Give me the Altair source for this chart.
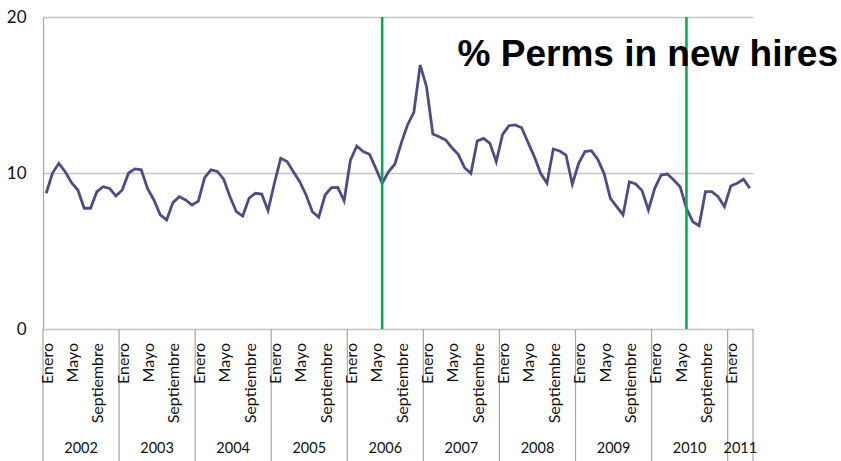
import altair as alt
import pandas as pd

# Monthly share of permanent contracts among new hires (%), Jan 2002 - Apr 2011
years = [2002, 2003, 2004, 2005, 2006, 2007, 2008, 2009, 2010, 2011]
v2002 = [8.7, 10.0, 10.62, 10.08, 9.38, 8.91, 7.74, 7.74, 8.80, 9.12, 9.01, 8.53]
v2003 = [8.91, 10.0, 10.26, 10.2, 9.0, 8.27, 7.31, 6.99, 8.10, 8.48, 8.27, 7.95]
v2004 = [8.2, 9.7, 10.2, 10.1, 9.6, 8.48, 7.52, 7.24, 8.38, 8.70, 8.65, 7.59]
v2005 = [9.34, 10.94, 10.73, 10.08, 9.44, 8.59, 7.52, 7.16, 8.59, 9.06, 9.08, 8.22]
v2006 = [10.83, 11.73, 11.37, 11.2, 10.3, 9.34, 10.07, 10.56, 11.9, 13.08, 13.89, 16.92]
v2007 = [15.53, 12.5, 12.33, 12.12, 11.62, 11.2, 10.34, 9.98, 12.05, 12.22, 11.9, 10.73]
v2008 = [12.48, 13.03, 13.08, 12.9, 11.97, 11.05, 9.98, 9.34, 11.54, 11.41, 11.15, 9.28]
v2009 = [10.62, 11.37, 11.43, 10.88, 9.98, 8.38, 7.84, 7.31, 9.44, 9.3, 8.87, 7.63]
v2010 = [9.02, 9.87, 9.93, 9.55, 9.12, 7.74, 6.88, 6.62, 8.8, 8.8, 8.48, 7.84]
v2011 = [9.17, 9.34, 9.6, 9.02]
series = [v2002, v2003, v2004, v2005, v2006, v2007, v2008, v2009, v2010, v2011]

# Month labels shown on the axis (month number -> Spanish name)
month_labels = {1: "Enero", 5: "Mayo", 9: "Septiembre"}
# Reform dates marked with vertical lines (year, month)
events = [(2006, 6), (2010, 6)]
title_text = "% Perms in new hires"

FIRST = years[0]


def slot(year, month):
    # centre of the month's band on a continuous month axis
    return (year - FIRST) * 12 + month - 0.5


rows = []
for yr, vals in zip(years, series):
    for m, v in enumerate(vals, start=1):
        rows.append({"t": slot(yr, m), "value": v})
df = pd.DataFrame(rows)

n_months = len(df)
lab_rows = []
for yr, vals in zip(years, series):
    for m in month_labels:
        if m <= len(vals):
            lab_rows.append({"t": slot(yr, m), "label": month_labels[m]})
labels_df = pd.DataFrame(lab_rows)

year_rows = []
for yr, vals in zip(years, series):
    start = (yr - FIRST) * 12
    year_rows.append({"t": start + len(vals) / 2, "label": str(yr)})
years_df = pd.DataFrame(year_rows)

bounds = [(yr - FIRST) * 12 for yr in years] + [n_months]
bounds_df = pd.DataFrame({"t": bounds})
events_df = pd.DataFrame({"t": [slot(y, m) for y, m in events]})

LABEL_FONT = "Lato"
xs = alt.Scale(domain=[0, n_months], nice=False, zero=False)

line = alt.Chart(df).mark_line(color="#4d4d86", strokeWidth=2.8).encode(
    x=alt.X("t:Q", scale=xs, axis=None),
    y=alt.Y(
        "value:Q",
        scale=alt.Scale(domain=[0, 20], nice=False),
        axis=alt.Axis(
            values=[0, 10, 20],
            title=None,
            grid=True,
            gridColor="#c4c4c4",
            gridWidth=1.5,
            domainColor="#a6a6a6",
            domainWidth=1.2,
            ticks=False,
            labelPadding=17,
            labelFont=LABEL_FONT,
            labelFontSize=17,
            labelColor="#111111",
        ),
    ),
)

events_rule = alt.Chart(events_df).mark_rule(color="#00b050", strokeWidth=2.6).encode(
    x=alt.X("t:Q", scale=xs)
)

separators = alt.Chart(bounds_df).mark_rule(color="#a6a6a6", strokeWidth=1.2).encode(
    x=alt.X("t:Q", scale=xs), y=alt.value(312), y2=alt.value(444)
)

month_text = alt.Chart(labels_df).mark_text(
    angle=270, align="right", baseline="middle", font=LABEL_FONT, fontSize=16,
    color="#111111", dy=1.5
).encode(x=alt.X("t:Q", scale=xs), y=alt.value(326), text="label:N")

year_text = alt.Chart(years_df).mark_text(
    align="center", baseline="middle", font=LABEL_FONT, fontSize=14.5, color="#111111"
).encode(x=alt.X("t:Q", scale=xs), y=alt.value(432), text="label:N")

title = alt.Chart(pd.DataFrame({"label": [title_text]})).mark_text(
    align="right", baseline="alphabetic", font="Liberation Sans", fontWeight="bold",
    fontSize=37, color="#000000"
).encode(x=alt.value(795), y=alt.value(49), text="label:N")

chart = (
    alt.layer(line, events_rule, separators, month_text, year_text, title)
    .properties(
        width=710,
        height=312,
        padding={"left": 43, "top": 17, "right": 88, "bottom": 132},
        autosize=alt.AutoSizeParams(type="none"),
        background="white",
    )
    .configure_view(stroke=None)
)

chart.save("out.html", embed_options={"renderer": "svg", "actions": False})
